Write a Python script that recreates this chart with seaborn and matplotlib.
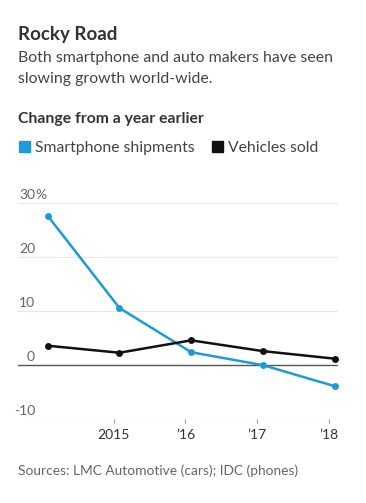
import numpy as np
import pandas as pd
import matplotlib
matplotlib.use('Agg')
import matplotlib.pyplot as plt
import seaborn as sns

# data (percent change from a year earlier)
years = [2014, 2015, 2016, 2017, 2018]
smartphone = [27.7, 10.6, 2.4, 0.0, -3.9]
vehicles = [3.6, 2.3, 4.6, 2.6, 1.2]
series_names = ['Smartphone shipments', 'Vehicles sold']
tick_years = [2015, 2016, 2017, 2018]
tick_labels = ['2015', '\u201916', '\u201917', '\u201918']
y_ticks = [30, 20, 10, 0, -10]

BLUE = '#1d9bd7'
BLACK = '#111111'
TXT = '#333333'
GREY = '#666666'

df = pd.DataFrame({
    'year': years * 2,
    'value': smartphone + vehicles,
    'series': [series_names[0]] * 5 + [series_names[1]] * 5,
})
# points sit a little after the year tick
df['x'] = df['year'] + 0.08

sns.set_theme(style='white')
plt.rcParams['font.family'] = ['Lato', 'DejaVu Sans']

W, H = 366, 503
fig = plt.figure(figsize=(W / 100, H / 100), dpi=100)

def fx(px):
    return px / W

def fy(py):
    return 1 - py / H

# axes placed by pixel box: left 18, right 338, y=-10 at 419, y=30 at 203.5
ymin, ymax = -10, 31
px_per = (419 - 203.5) / 40
top_px = 419 - (ymax - ymin) * px_per
ax = fig.add_axes([fx(18), fy(419), fx(338) - fx(18), (419 - top_px) / H])

sns.lineplot(data=df, x='x', y='value', hue='series', palette=[BLUE, BLACK],
             marker='o', markersize=5, markeredgewidth=0, linewidth=1.8,
             ax=ax, legend=False, clip_on=False)

ax.set_xlim(2013.665, 2018.128)
ax.set_ylim(ymin, ymax)
for v in y_ticks:
    if v == 0:
        ax.axhline(v, color='#555555', lw=1.0, zorder=1)
    else:
        ax.axhline(v, color='#e8e8e8', lw=0.8, zorder=0)
for s in ax.spines.values():
    s.set_visible(False)
ax.set_yticks([])
ax.set_xticks(tick_years)
ax.set_xticklabels(tick_labels, fontsize=10, color=TXT)
ax.tick_params(axis='x', length=3, width=0.8, color='#999999', pad=4, direction='out', bottom=True)
ax.set_xlabel('')
ax.set_ylabel('')

# y labels above gridlines, right-aligned numbers with % hanging
for v in y_ticks:
    ax.text(0.053, v + 0.4, str(v), transform=ax.get_yaxis_transform(),
            ha='right', va='bottom', fontsize=10, color=GREY)
ax.text(0.053, 30.4, '%', transform=ax.get_yaxis_transform(),
        ha='left', va='bottom', fontsize=10, color=GREY)

# header texts
fig.text(fx(18), fy(40), 'Rocky Road', fontsize=13.5, fontweight='bold',
         color=TXT, va='baseline')
fig.text(fx(18), fy(62), 'Both smartphone and auto makers have seen',
         fontsize=11.4, color='#444444', va='baseline')
fig.text(fx(18), fy(83), 'slowing growth world-wide.',
         fontsize=11.4, color='#444444', va='baseline')
fig.text(fx(18), fy(123), 'Change from a year earlier', fontsize=11.3,
         fontweight='bold', color=TXT, va='baseline')

# legend
fig.patches.append(plt.Rectangle((fx(19), fy(152)), fx(11), 11 / H,
                                 color=BLUE, transform=fig.transFigure))
fig.text(fx(35), fy(152), series_names[0], fontsize=11.3, color='#444444',
         va='baseline')
fig.patches.append(plt.Rectangle((fx(212), fy(152)), fx(11), 11 / H,
                                 color=BLACK, transform=fig.transFigure))
fig.text(fx(228), fy(152), series_names[1], fontsize=11.3, color='#444444',
         va='baseline')

fig.text(fx(18), fy(475), 'Sources: LMC Automotive (cars); IDC (phones)',
         fontsize=9.9, color=GREY, va='baseline')

fig.savefig('out.png', dpi=100, facecolor='white')
